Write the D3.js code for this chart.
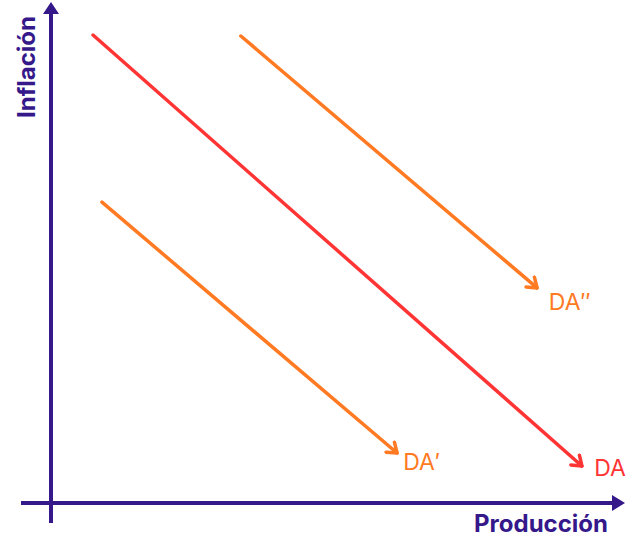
<!DOCTYPE html>
<html lang="es">
<head>
  <meta charset="utf-8">
  <title>Demanda agregada</title>
  <script src="https://d3js.org/d3.v7.min.js"></script>
  <style>
    body { margin: 0; background: #fff; }
    .axis-title { font-family: Inter, "Noto Sans", sans-serif; font-weight: 700; fill: #35188a; }
    .curve-label { font-family: Inter, "Noto Sans", sans-serif; font-size: 23px; font-weight: 400; }
  </style>
</head>
<body>
<script>
  // curves: name, start/end in chart units (x = producción, y = inflación)
  const curveNames = ["DA", "DA''", "DA'"];
  const curveLabels = ["DA", "DA\u2033", "DA\u2032"];
  const curveColors = ["#ff3434", "#ff7a22", "#ff7a22"];
  const startX = [0.75, 3.39, 0.91];
  const startY = [9.55, 9.53, 6.14];
  const endX = [9.48, 8.68, 6.18];
  const endY = [0.755, 4.39, 1.02];
  const labelX = [9.70, 8.89, 6.29];
  const labelY = [0.55, 3.94, 0.67];

  const width = 643, height = 551;
  const axisColor = "#35188a";

  const svg = d3.select("body").append("svg")
    .attr("width", width)
    .attr("height", height);

  const x = d3.scaleLinear().domain([0, 10]).range([51, 611]);
  const y = d3.scaleLinear().domain([0, 10]).range([503, 13]);

  // arrow markers for the curves
  const defs = svg.append("defs");
  curveColors.forEach((c, i) => {
    defs.append("marker")
      .attr("id", "head" + i)
      .attr("viewBox", "-12 -8 14 16")
      .attr("refX", 0).attr("refY", 0)
      .attr("markerWidth", 14).attr("markerHeight", 16)
      .attr("markerUnits", "userSpaceOnUse")
      .attr("orient", "auto")
      .append("path")
      .attr("d", "M-9,-6.5 L0,0 L-9,6.5")
      .attr("fill", "none")
      .attr("stroke", c)
      .attr("stroke-width", 3.5)
      .attr("stroke-linecap", "round")
      .attr("stroke-linejoin", "round");
  });

  // axes
  svg.append("line")
    .attr("x1", x(0)).attr("y1", y(0) + 20)
    .attr("x2", x(0)).attr("y2", 12)
    .attr("stroke", axisColor).attr("stroke-width", 4);
  svg.append("path")
    .attr("d", `M${x(0) - 8},14 L${x(0)},2 L${x(0) + 8},14 Z`)
    .attr("fill", axisColor);

  svg.append("line")
    .attr("x1", 21).attr("y1", y(0))
    .attr("x2", 614).attr("y2", y(0))
    .attr("stroke", axisColor).attr("stroke-width", 4);
  svg.append("path")
    .attr("d", `M612,${y(0) - 8} L625,${y(0)} L612,${y(0) + 8} Z`)
    .attr("fill", axisColor);

  svg.append("text")
    .attr("class", "axis-title")
    .attr("transform", `translate(35,67) rotate(-90)`)
    .attr("text-anchor", "middle")
    .attr("font-size", 24)
    .text("Inflación");

  svg.append("text")
    .attr("class", "axis-title")
    .attr("x", 608).attr("y", 532)
    .attr("text-anchor", "end")
    .attr("font-size", 24)
    .text("Producción");

  // curves
  const curves = curveNames.map((n, i) => ({
    name: n, label: curveLabels[i], color: curveColors[i],
    x1: startX[i], y1: startY[i], x2: endX[i], y2: endY[i],
    lx: labelX[i], ly: labelY[i], idx: i
  }));

  svg.selectAll(".curve")
    .data(curves)
    .enter().append("line")
    .attr("class", "curve")
    .attr("x1", d => x(d.x1)).attr("y1", d => y(d.y1))
    .attr("x2", d => x(d.x2)).attr("y2", d => y(d.y2))
    .attr("stroke", d => d.color)
    .attr("stroke-width", 3.5)
    .attr("stroke-linecap", "round")
    .attr("marker-end", d => `url(#head${d.idx})`);

  svg.selectAll(".curve-label")
    .data(curves)
    .enter().append("text")
    .attr("class", "curve-label")
    .attr("x", d => x(d.lx)).attr("y", d => y(d.ly))
    .attr("fill", d => d.color)
    .text(d => d.label);
</script>
</body>
</html>
